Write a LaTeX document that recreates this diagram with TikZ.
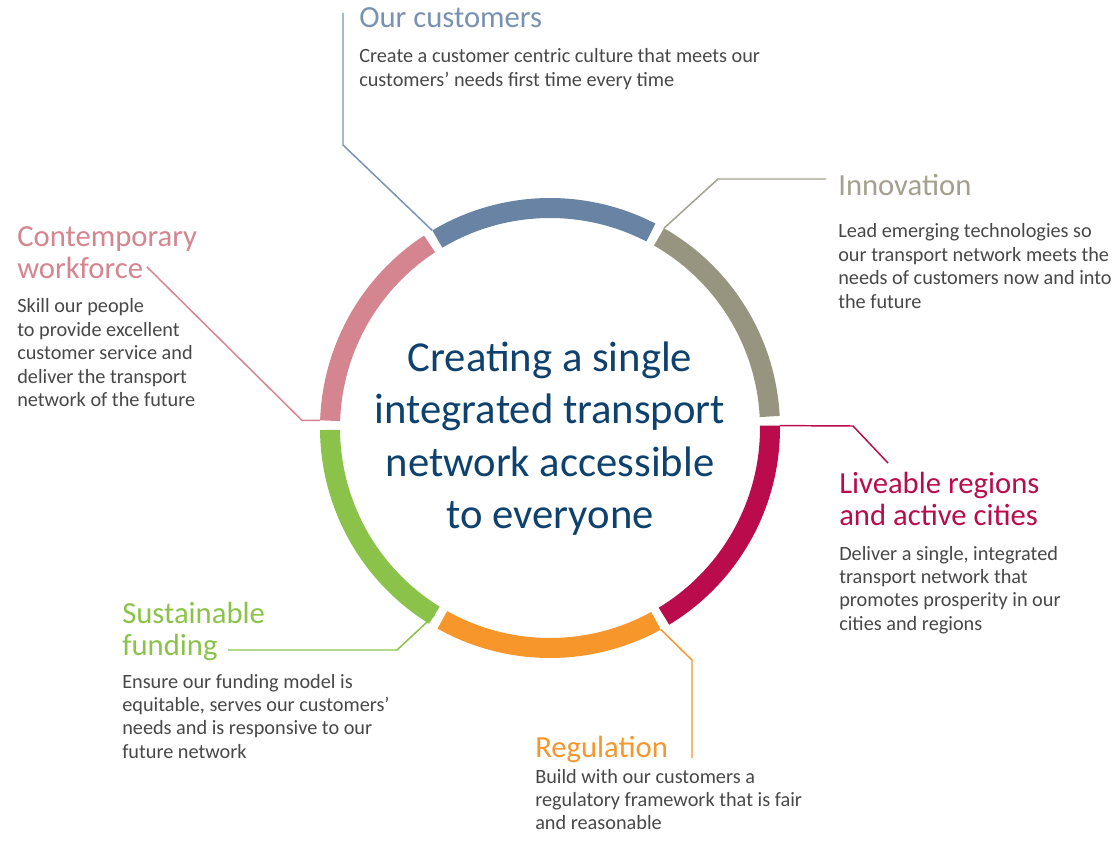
\documentclass[tikz,border=0pt]{standalone}
\usepackage{fontspec}
\setmainfont{Carlito}
\usetikzlibrary{calc}
\definecolor{cblue}{HTML}{6983A5}
\definecolor{cbluet}{HTML}{7892B3}
\definecolor{cgrey}{HTML}{97947F}
\definecolor{cgreyt}{HTML}{A3A08F}
\definecolor{cpink}{HTML}{D4858F}
\definecolor{cgreen}{HTML}{8BC34A}
\definecolor{corange}{HTML}{F7962B}
\definecolor{ccrim}{HTML}{BA0C4D}
\definecolor{cnavy}{HTML}{0E416E}
\definecolor{cbody}{HTML}{484848}
\newcommand\txtlines[2]{\parbox[t]{#1}{\raggedright #2}}
\begin{document}
\begin{tikzpicture}[x=0.75pt,y=-0.75pt,
  seg/.style={line width=15pt},
  link/.style={line width=1.1pt},
  head/.style={anchor=base west,inner sep=0pt,font=\fontsize{23}{24}\selectfont},
  body/.style={anchor=base west,inner sep=0pt,text=cbody,font=\fontsize{15.2}{17.6}\selectfont},
  ]
\useasboundingbox (0,0) rectangle (1120,841);
\fill[white] (0,0) rectangle (1120,841);
\coordinate (C) at (550,428);
% ring segments
\draw[seg,cgrey]   ($(C)+(3:165pt)$)     arc[start angle=3,end angle=60.3,radius=165pt];
\draw[seg,cblue]   ($(C)+(62.7:165pt)$)  arc[start angle=62.7,end angle=120.8,radius=165pt];
\draw[seg,cpink]   ($(C)+(123.2:165pt)$) arc[start angle=123.2,end angle=178.1,radius=165pt];
\draw[seg,cgreen]  ($(C)+(180.5:165pt)$) arc[start angle=180.5,end angle=238.3,radius=165pt];
\draw[seg,corange] ($(C)+(240.7:165pt)$) arc[start angle=240.7,end angle=298.8,radius=165pt];
\draw[seg,ccrim]   ($(C)+(301.2:165pt)$) arc[start angle=301.2,end angle=360.6,radius=165pt];
% centre text
\node[anchor=base,inner sep=0pt,text=cnavy,font=\fontsize{32}{39}\selectfont] (title) at (550,372)
  {\parbox[t]{10cm}{\centering Creating a single\\integrated transport\\network accessible\\to everyone}};
% attachment points on the ring
\coordinate (eCust)  at ($(C)+(120.8:172.5pt)$);
\coordinate (eInno)  at ($(C)+(60.3:172.5pt)$);
\coordinate (eWork)  at ($(C)+(178.1:172.5pt)$);
\coordinate (eLive)  at ($(C)+(0.6:172.5pt)$);
\coordinate (eFund)  at ($(C)+(238.3:165pt)$);
\coordinate (eReg)   at ($(C)+(298.8:172.5pt)$);
% Our customers
\node[head,text=cbluet] (hCust) at (359,28) {Our customers};
\node[body] (bCust) at (359,63) {\txtlines{12cm}{Create a customer centric culture that meets our\\customers' needs first time every time}};
\coordinate (cu1) at (343,13);
\coordinate (cu2) at (343,145);
\draw[link,cbluet] (cu1) -- (cu2) -- (eCust);
% Innovation
\node[head,text=cgreyt] (hInno) at (838,196) {Innovation};
\node[body] (bInno) at (838,238) {\txtlines{8cm}{Lead emerging technologies so\\our transport network meets the\\needs of customers now and into\\the future}};
\coordinate (in1) at (826,179);
\coordinate (in2) at (718,179);
\draw[link,cgreyt] (in1) -- (in2) -- (eInno);
% Contemporary workforce
\node[head,text=cpink] (hWork) at (17,247) {\txtlines{8cm}{Contemporary\\workforce}};
\node[body] (bWork) at (17,313) {\txtlines{8cm}{Skill our people\\to provide excellent\\customer service and\\deliver the transport\\network of the future}};
\coordinate (wo1) at (147,267);
\coordinate (wo2) at (302,420.4);
\draw[link,cpink] (wo1) -- (wo2) -- (eWork);
% Liveable regions
\node[head,text=ccrim] (hLive) at (839,493) {\txtlines{8cm}{Liveable regions\\and active cities}};
\node[body] (bLive) at (839,560) {\txtlines{8cm}{Deliver a single, integrated\\transport network that\\promotes prosperity in our\\cities and regions}};
\coordinate (li1) at (853,426);
\coordinate (li2) at (888,463);
\draw[link,ccrim] (eLive) -- (li1) -- (li2);
% Sustainable funding
\node[head,text=cgreen] (hFund) at (122,623) {\txtlines{8cm}{Sustainable\\funding}};
\node[body] (bFund) at (122,688) {\txtlines{8cm}{Ensure our funding model is\\equitable, serves our customers'\\needs and is responsive to our\\future network}};
\coordinate (fu1) at (228,650);
\coordinate (fu2) at (397,650);
\draw[link,cgreen] (fu1) -- (fu2) -- (eFund);
% Regulation
\node[head,text=corange] (hReg) at (535,757) {Regulation};
\node[body] (bReg) at (535,783) {\txtlines{8cm}{Build with our customers a\\regulatory framework that is fair\\and reasonable}};
\coordinate (re1) at (692,660);
\coordinate (re2) at (692,758);
\draw[link,corange] (eReg) -- (re1) -- (re2);
\end{tikzpicture}
\end{document}
